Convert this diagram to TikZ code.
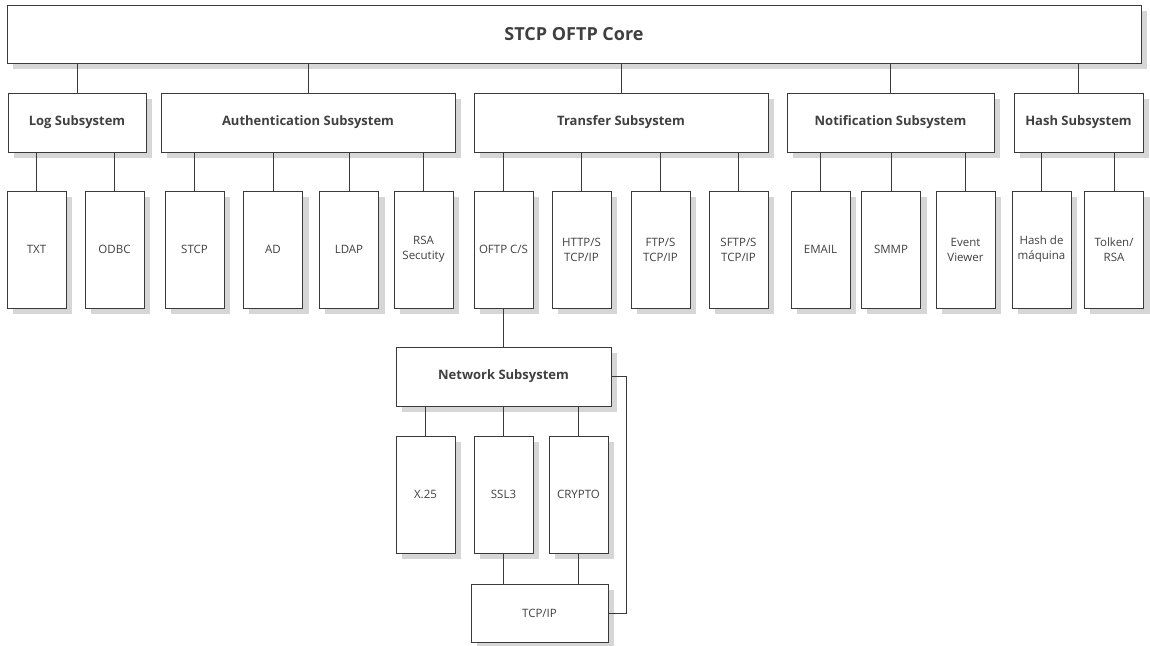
\documentclass[tikz,border=0pt]{standalone}
\usepackage{fontspec}
\setmainfont{Open Sans}
\usetikzlibrary{backgrounds}
\definecolor{ink}{HTML}{404040}
\definecolor{edge}{HTML}{3A3A3A}
\definecolor{shade}{HTML}{D6D6D6}
\begin{document}
\begin{tikzpicture}[x=1pt,y=-1pt,
  base/.style={draw=edge, line width=0.9pt, fill=white, text=ink, inner sep=0pt, align=center},
  core/.style={base, minimum width=1134pt, minimum height=58pt, font=\fontsize{18}{22}\selectfont\bfseries},
  sub/.style={base, minimum height=59pt, font=\fontsize{13}{15}\selectfont\bfseries},
  leaf/.style={base, minimum width=59pt, minimum height=117pt, font=\fontsize{11.5}{15}\selectfont},
  link/.style={draw=edge, line width=0.9pt},
  shadowbox/.style={fill=shade, draw=none}]
\useasboundingbox (0,0) rectangle (1150,645);

% top level
\node[core] (core) at (574,34) {STCP OFTP Core};

% subsystems
\node[sub, minimum width=138pt] (log)   at (77,122.5)    {Log Subsystem};
\node[sub, minimum width=294pt] (auth)  at (308,122.5)   {Authentication Subsystem};
\node[sub, minimum width=294pt] (trans) at (621,122.5)   {Transfer Subsystem};
\node[sub, minimum width=207pt] (notif) at (890.5,122.5) {Notification Subsystem};
\node[sub, minimum width=129pt] (hash)  at (1078.5,122.5){Hash Subsystem};

% components
\node[leaf] (txt)   at (36.5,249.5)   {TXT};
\node[leaf] (odbc)  at (114.5,249.5)  {ODBC};
\node[leaf] (stcp)  at (194.5,249.5)  {STCP};
\node[leaf] (ad)    at (273,249.5)    {AD};
\node[leaf] (ldap)  at (349,249.5)    {LDAP};
\node[leaf] (rsa)   at (423.5,249.5)  {RSA\\Secutity};
\node[leaf] (oftp)  at (503.5,249.5)  {OFTP C/S};
\node[leaf] (http)  at (581.5,249.5)  {HTTP/S\\TCP/IP};
\node[leaf] (ftp)   at (660.5,249.5)  {FTP/S\\TCP/IP};
\node[leaf] (sftp)  at (738.5,249.5)  {SFTP/S\\TCP/IP};
\node[leaf] (email) at (820.5,249.5)  {EMAIL};
\node[leaf] (smmp)  at (891,249.5)    {SMMP};
\node[leaf] (event) at (965.5,249.5)  {Event\\Viewer};
\node[leaf] (mhash) at (1041.5,249.5) {Hash de\\máquina};
\node[leaf] (tolk)  at (1114,249.5)   {Tolken/\\RSA};

% network stack
\node[sub, minimum width=215pt] (net) at (503.5,376.5) {Network Subsystem};
\node[leaf] (x25)    at (425.5,494.5) {X.25};
\node[leaf] (ssl)    at (503.5,494.5) {SSL3};
\node[leaf] (crypto) at (578.5,494.5) {CRYPTO};
\node[base, minimum width=137pt, minimum height=58pt, font=\fontsize{11.5}{15}\selectfont] (tcp) at (539.5,613) {TCP/IP};

% drop shadows behind every box
\begin{scope}[on background layer]
  \foreach \n in {core, log, auth, trans, notif, hash,
      txt, odbc, stcp, ad, ldap, rsa, oftp, http, ftp, sftp,
      email, smmp, event, mhash, tolk, net, x25, ssl, crypto, tcp}
    \fill[shadowbox] ([shift={(6,6)}]\n.north west) rectangle ([shift={(6,6)}]\n.south east);
\end{scope}

% connectors
\foreach \c/\p in {log/core, auth/core, trans/core, notif/core, hash/core,
    txt/log, odbc/log, stcp/auth, ad/auth, ldap/auth, rsa/auth,
    oftp/trans, http/trans, ftp/trans, sftp/trans,
    email/notif, smmp/notif, event/notif, mhash/hash, tolk/hash,
    net/oftp, x25/net, ssl/net, crypto/net}
  \draw[link] (\c.north) -- (\c.north |- \p.south);
\foreach \c in {ssl, crypto}
  \draw[link] (\c.south) -- (\c.south |- tcp.north);
\draw[link] (net.east) -- ++(15,0) |- (tcp.east);
\end{tikzpicture}
\end{document}
